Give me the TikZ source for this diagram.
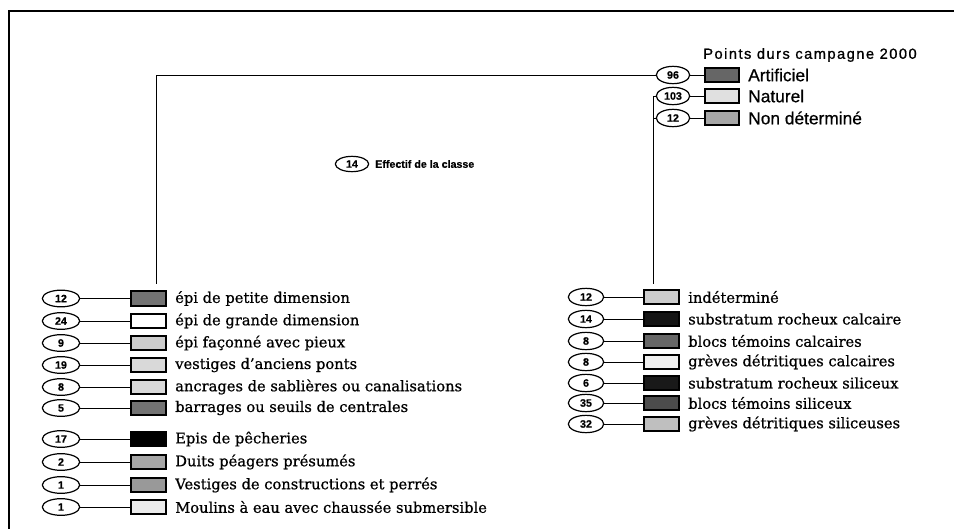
\documentclass[tikz,border=0pt]{standalone}
\usepackage{fontspec}
\setmainfont[FakeBold=0.8]{DejaVu Serif}
\newfontfamily\legsans[FakeBold=0.6]{Liberation Sans}
\newfontfamily\titlesans[LetterSpace=10,FakeBold=1]{Liberation Sans}
\usetikzlibrary{shapes.geometric}

\begin{document}
\begin{tikzpicture}[x=0.75pt,y=-0.75pt,
  frame/.style={line width=1.5pt},
  link/.style={line width=0.7pt},
  count/.style={ellipse, draw, line width=0.9pt, minimum width=28pt,
    minimum height=12.5pt, inner sep=0pt,
    font=\legsans\bfseries\fontsize{8}{9}\selectfont},
  swatch/.style={draw, line width=1.4pt, minimum width=26pt,
    minimum height=11pt, inner sep=0pt},
  item/.style={anchor=west, inner sep=0pt, font=\fontsize{11}{12}\selectfont},
  sitem/.style={anchor=west, inner sep=0pt, font=\legsans\fontsize{13}{14}\selectfont},
]
\useasboundingbox (0,0) rectangle (954,529);

% outer frame (top and left edges)
\draw[frame] (8,11) -- (954,11);
\draw[frame] (9,11) -- (9,529);

% ---- main legend: hard points
\node[anchor=west, inner sep=0pt, font=\titlesans\fontsize{11}{12}\selectfont]
  (title) at (703,55) {Points durs campagne 2000};
\foreach \i/\n/\c/\t/\y in {1/96/black!60/Artificiel/75,
                            2/103/black!12/Naturel/96,
                            3/12/black!35/Non déterminé/118}{
  \node[count, minimum width=25pt, minimum height=13pt] (t\i) at (673,\y) {\n};
  \node[swatch, fill=\c] (tb\i) at (722,\y) {};
  \node[sitem] (tt\i) at (748,\y) {\t};
  \draw[link] (t\i.east) -- (tb\i.west);
}

% ---- key for the counts
\node[count, minimum width=25pt, minimum height=11.5pt] (key) at (352,164) {14};
\node[anchor=west, inner sep=0pt, font=\legsans\bfseries\fontsize{8}{9}\selectfont]
  (keytxt) at (375,164) {Effectif de la classe};

% ---- artificial points (left list)
\foreach \i/\n/\c/\t/\y in {
  1/12/black!55/épi de petite dimension/298.5,
  2/24/white/épi de grande dimension/321,
  3/9/black!20/épi façonné avec pieux/343,
  4/19/black!15/vestiges d'anciens ponts/365,
  5/8/black!15/ancrages de sablières ou canalisations/387,
  6/5/black!55/barrages ou seuils de centrales/408,
  7/17/black/Epis de pêcheries/439,
  8/2/black!35/Duits péagers présumés/462,
  9/1/black!40/Vestiges de constructions et perrés/485,
  10/1/black!8/Moulins à eau avec chaussée submersible/507}{
  \node[count] (l\i) at (61,\y) {\n};
  \node[swatch, fill=\c] (lb\i) at (148.5,\y) {};
  \node[item] (lt\i) at (175,\y) {\t};
  \draw[link] (l\i.east) -- (lb\i.west);
}

% ---- natural points (right list)
\foreach \i/\n/\c/\t/\y in {
  1/12/black!20/indéterminé/297,
  2/14/black!92/substratum rocheux calcaire/319,
  3/8/black!60/blocs témoins calcaires/341,
  4/8/black!6/grèves détritiques calcaires/362,
  5/6/black!90/substratum rocheux siliceux/383,
  6/35/black!70/blocs témoins siliceux/403,
  7/32/black!25/grèves détritiques siliceuses/424}{
  \node[count, minimum width=26.5pt, minimum height=13pt] (r\i) at (586,\y) {\n};
  \node[swatch, fill=\c] (rb\i) at (661.5,\y) {};
  \node[item] (rt\i) at (688,\y) {\t};
  \draw[link] (r\i.east) -- (rb\i.west);
}

% ---- branches from the main legend to the detail lists
\coordinate (ltop) at (156,75);
\coordinate (lbot) at (156,284);
\draw[link] (t1.west) -- (ltop) -- (lbot);

\coordinate (rtop) at (653,94);
\coordinate (rbot) at (653,284);
\draw[link] (t2.west) -- (t2.west -| rtop) -- (rbot);
\draw[link] (t3.west) -- (t3.west -| rtop);
\end{tikzpicture}
\end{document}
